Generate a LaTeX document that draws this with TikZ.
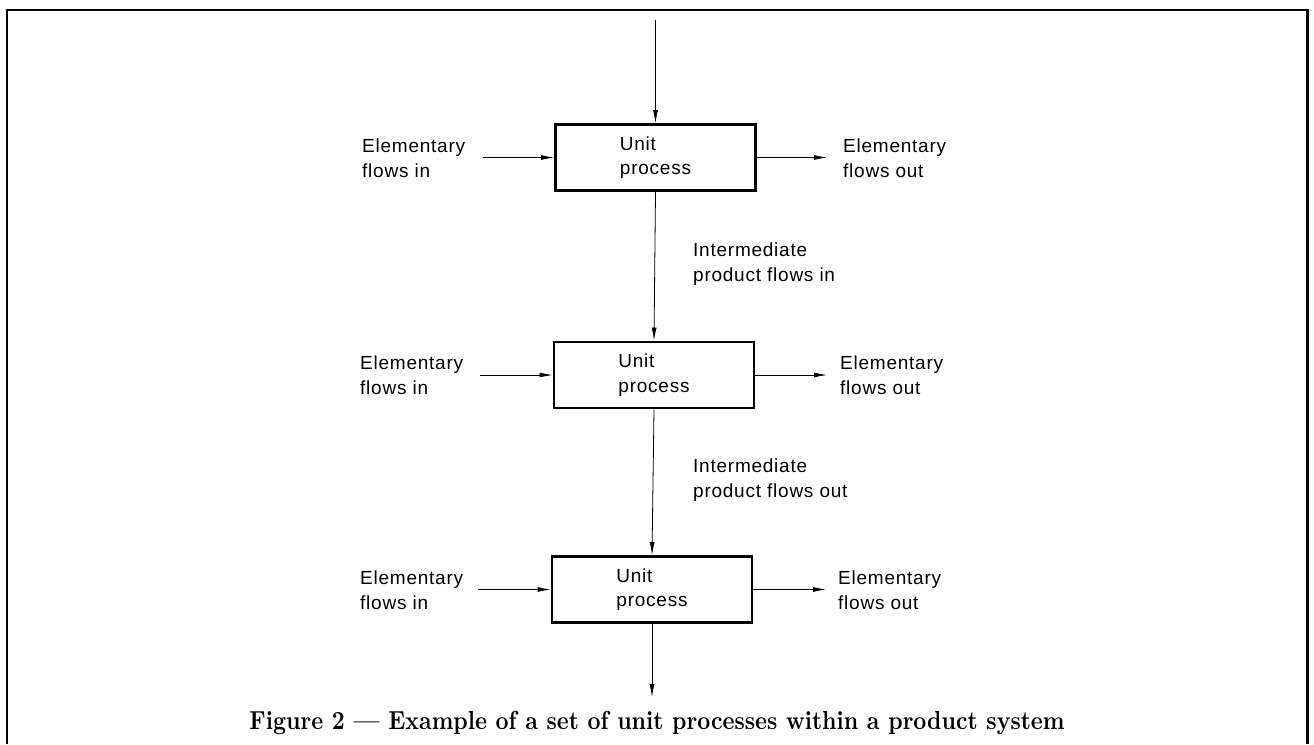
\documentclass[tikz,border=0pt]{standalone}
\usepackage{fontspec}
\setmainfont{Latin Modern Roman}
\newfontfamily\lblfont{Liberation Sans}[LetterSpace=4]
\usetikzlibrary{arrows.meta}
\begin{document}
\begin{tikzpicture}[x=1pt,y=-1pt,
  procbox/.style={draw, line width=2.8pt, minimum width=200pt, minimum height=66pt,
    inner sep=0pt, align=left, font=\lblfont\fontsize{19}{24.5}\selectfont},
  lbl/.style={anchor=west, align=left, inner sep=0pt, font=\lblfont\fontsize{19}{24.5}\selectfont},
  arr/.style={line width=0.8pt, -{Latex[length=13pt,width=5pt]}},
  frameline/.style={line width=2.8pt}
]
\useasboundingbox (0,0) rectangle (1314,744);
% outer frame (open at bottom)
\draw[frameline] (7,744) -- (7,10) -- (1307.5,10) -- (1307.5,744);

% unit processes
\node[procbox] (b1) at (655.5,157.5) {Unit\\process};
\node[procbox] (b2) at (654,375) {Unit\\process};
\node[procbox] (b3) at (652,589.5) {Unit\\process};

% left labels
\node[lbl] (l1) at (362,158) {Elementary\\flows in};
\node[lbl] (l2) at (360,375) {Elementary\\flows in};
\node[lbl] (l3) at (360,590) {Elementary\\flows in};
% right labels
\node[lbl] (r1) at (843,158) {Elementary\\flows out};
\node[lbl] (r2) at (840,375) {Elementary\\flows out};
\node[lbl] (r3) at (838,590) {Elementary\\flows out};
% intermediate labels
\node[lbl] (m1) at (693,264) {Intermediate\\product flows in};
\node[lbl] (m2) at (693,480) {Intermediate\\product flows out};

% free ends
\coordinate (top) at (655.5,20);
\coordinate (bot) at (652,697);
\coordinate (i1) at (483,157.5);
\coordinate (i2) at (480,375);
\coordinate (i3) at (478,589.5);
\coordinate (o1) at (827,157.5);
\coordinate (o2) at (827,375);
\coordinate (o3) at (826,589.5);

% connectors
\draw[arr] (top) -- (b1.north);
\draw[arr] (b1.south) -- (b2.north);
\draw[arr] (b2.south) -- (b3.north);
\draw[arr] (b3.south) -- (bot);
\draw[arr] (i1) -- (b1.west);
\draw[arr] (i2) -- (b2.west);
\draw[arr] (i3) -- (b3.west);
\draw[arr] (b1.east) -- (o1);
\draw[arr] (b2.east) -- (o2);
\draw[arr] (b3.east) -- (o3);

% caption
\node[inner sep=0pt, anchor=base] (cap) at (657,729)
  {\scalebox{1}[1.15]{\resizebox{815pt}{!}{\bfseries Figure 2 --- Example of a set of unit processes within a product system}}};
\end{tikzpicture}
\end{document}
